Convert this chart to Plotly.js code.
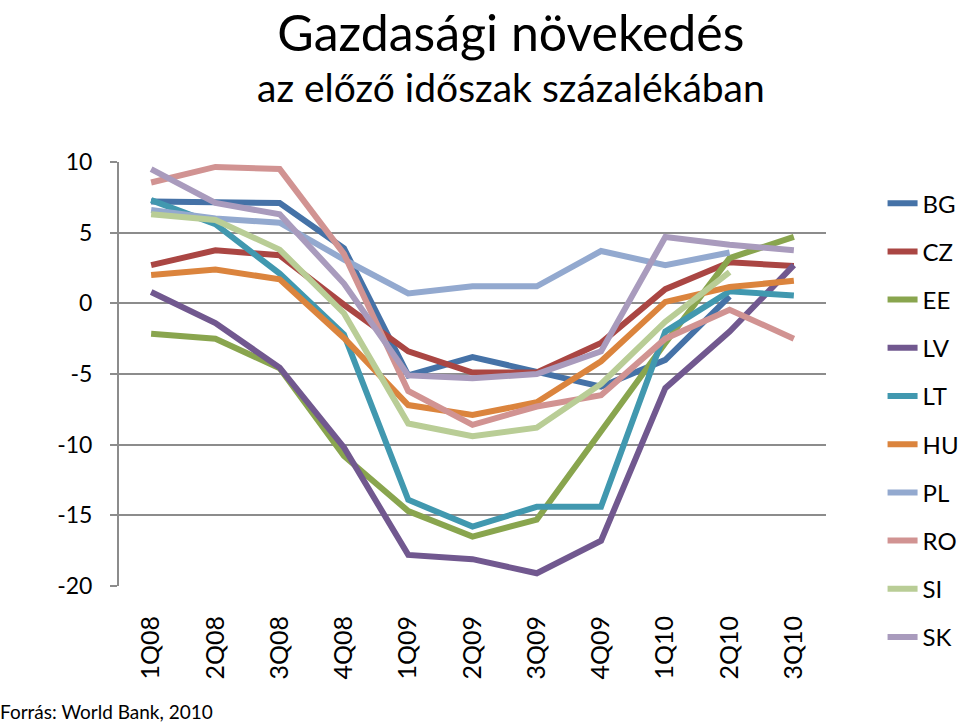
<!DOCTYPE html>
<html>
<head>
<meta charset="utf-8">
<script src="https://cdn.plot.ly/plotly-3.0.1.min.js"></script>
<style>html,body{margin:0;padding:0;background:#fff;}#chart{width:960px;height:723px;}</style>
</head>
<body>
<div id="chart"></div>
<script>
const quarters = ["1Q08","2Q08","3Q08","4Q08","1Q09","2Q09","3Q09","4Q09","1Q10","2Q10","3Q10"];
const BG = [7.2, 7.1, 7.1, 3.9, -5.1, -3.8, -4.8, -5.9, -4.0, 0.5, null];
const CZ = [2.7, 3.75, 3.4, -0.1, -3.4, -4.9, -4.9, -2.8, 1.0, 2.9, 2.65];
const EE = [-2.15, -2.5, -4.6, -10.8, -14.7, -16.5, -15.3, -9.0, -2.8, 3.2, 4.7];
const LV = [0.8, -1.4, -4.55, -10.2, -17.8, -18.1, -19.1, -16.8, -6.0, -2.0, 2.7];
const LT = [7.3, 5.6, 2.1, -2.2, -13.9, -15.8, -14.4, -14.4, -2.0, 0.85, 0.55];
const HU = [2.0, 2.4, 1.7, -2.45, -7.2, -7.9, -7.0, -4.1, 0.1, 1.15, 1.6];
const PL = [6.6, 6.0, 5.7, 3.1, 0.7, 1.2, 1.2, 3.7, 2.7, 3.6, null];
const RO = [8.55, 9.65, 9.5, 3.5, -6.2, -8.6, -7.3, -6.5, -2.5, -0.45, -2.5];
const SI = [6.3, 5.9, 3.8, -0.7, -8.5, -9.4, -8.8, -5.7, -1.3, 2.2, null];
const SK = [9.5, 7.1, 6.3, 1.4, -5.1, -5.3, -5.0, -3.4, 4.7, 4.15, 3.75];
const yTicks = [10, 5, 0, -5, -10, -15, -20];
const yTickText = ["10", "5", "0", "-5", "-10", "-15", "-20"];
const boundaries = [-0.5,0.5,1.5,2.5,3.5,4.5,5.5,6.5,7.5,8.5,9.5,10.5];

const seriesNames = ["BG","CZ","EE","LV","LT","HU","PL","RO","SI","SK"];
const seriesData = [BG, CZ, EE, LV, LT, HU, PL, RO, SI, SK];
const colors = ["#4572A7","#AA4643","#89A54E","#71588F","#4198AF","#DB843D","#93A9CF","#D19392","#B9CD96","#A99BBD"];

const FONT = "Lato, 'Open Sans', sans-serif";

const traces = seriesNames.map((n, i) => ({
  type: "scatter", mode: "lines", name: n,
  x: quarters, y: seriesData[i],
  line: {color: colors[i], width: 6},
  legendgroup: n,
  connectgaps: false
}));

const layout = {
  width: 960, height: 723,
  margin: {l: 119, r: 134, t: 162, b: 137, autoexpand: false},
  paper_bgcolor: "#fff", plot_bgcolor: "#fff",
  showlegend: true,
  font: {family: FONT, color: "#000"},
  xaxis: {
    type: "category", categoryorder: "array", categoryarray: quarters,
    range: [-0.5, 10.5],
    showgrid: false, showline: false, zeroline: false,
    ticks: "outside", ticklen: 19, tickcolor: "rgba(0,0,0,0)",
    tickangle: -90,
    tickfont: {size: 25, family: FONT, color: "#000"}
  },
  xaxis2: {
    overlaying: "x", anchor: "free", position: 2/3,
    range: [-0.5, 10.5], tickvals: boundaries, showticklabels: false,
    ticks: "outside", ticklen: 8, tickwidth: 2, tickcolor: "#888",
    showgrid: false, showline: false, zeroline: false
  },
  yaxis: {
    range: [-20, 10], tickvals: yTicks, ticktext: yTickText,
    showgrid: true, gridcolor: "#8c8c8c", gridwidth: 2,
    zeroline: true, zerolinecolor: "#8c8c8c", zerolinewidth: 2,
    showline: true, linecolor: "#8c8c8c", linewidth: 2,
    ticks: "outside", ticklen: 7, tickwidth: 2, tickcolor: "#8c8c8c",
    ticklabelstandoff: 13,
    tickfont: {size: 23, family: FONT, color: "#000"}
  },
  legend: {
    x: 1.08, y: 0.955, xanchor: "left", yanchor: "top",
    font: {size: 24, family: FONT, color: "#000"},
    tracegroupgap: 14, bgcolor: "rgba(0,0,0,0)", maxheight: 520
  },
  annotations: [
    {text: '<span style="font-size:50px">Gazdasági növekedés</span><br>az előző időszak százalékában',
     xref: "paper", yref: "paper", x: 0.555, y: 1.0, yshift: 162,
     xanchor: "center", yanchor: "top", align: "center", showarrow: false,
     font: {size: 39, family: FONT, color: "#000"}},
    {text: "Forrás: World Bank, 2010", xref: "paper", yref: "paper", x: 0, xshift: -121, y: 0, yshift: -139,
     xanchor: "left", yanchor: "bottom", showarrow: false, font: {size: 19, family: FONT, color: "#000"}}
  ]
};

Plotly.newPlot("chart", traces, layout, {displayModeBar: false, staticPlot: true});
</script>
</body>
</html>
